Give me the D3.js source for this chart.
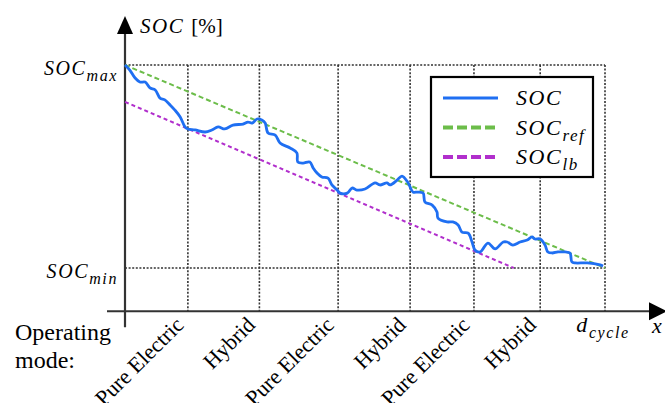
<!DOCTYPE html>
<html>
<head>
<meta charset="utf-8">
<script src="https://cdn.jsdelivr.net/npm/d3@7"></script>
<style>
  body { margin: 0; background: #fff; }
  svg { display: block; }
</style>
</head>
<body>
<div id="chart"></div>
<script>
// distance along the cycle (0 = start, 100 = d_cycle), SOC normalised (0 = SOC_min, 100 = SOC_max)
const modeNames = ["Pure Electric", "Hybrid", "Pure Electric", "Hybrid", "Pure Electric", "Hybrid"];
const modeEnds = [13.1, 28.0, 44.4, 59.4, 72.7, 86.5, 100];

const socX = [0, 1.0, 2.1, 3.1, 4.2, 5.2, 6.3, 7.3, 8.3, 9.4, 10.4, 11.5, 12.5, 13.1, 14.6, 16.7, 18.1, 19.4, 20.8, 22.5,
  24.6, 25.6, 26.5, 27.5, 28.5, 29.2, 29.8, 31.3, 32.3, 34.4, 35.8, 36.0, 37.1, 38.5, 39.2, 40.0, 41.0, 42.3, 43.1, 44.2,
  44.8, 46.3, 47.3, 48.3, 50.0, 52.1, 53.1, 54.6, 55.2, 56.7, 57.7, 59.0, 60.0, 61.0, 62.1, 62.5, 64.0, 65.0, 65.2, 67.1,
  68.3, 69.4, 70.2, 71.5, 72.3, 72.9, 74.0, 75.6, 77.1, 78.8, 79.6, 80.8, 82.3, 83.8, 84.8, 85.4, 86.5, 87.5, 88.1, 89.0,
  90.2, 91.7, 92.7, 93.1, 93.8, 96.3, 99.0, 99.6];
const socY = [100, 97.5, 93.6, 91.6, 91.6, 88.7, 87.7, 83.7, 82.8, 80.3, 77.8, 74.4, 69.5, 68.5, 68.0, 67.0, 68.0, 69.5, 68.5, 70.4,
  70.9, 71.9, 71.4, 73.4, 72.9, 71.4, 66.5, 65.5, 61.6, 59.1, 56.7, 52.2, 51.7, 52.2, 49.3, 46.8, 44.8, 44.3, 40.9, 38.4,
  36.9, 36.9, 39.4, 38.4, 38.9, 41.9, 40.9, 41.9, 40.9, 43.3, 45.3, 41.9, 37.4, 37.4, 36.9, 32.5, 31.0, 27.6, 24.6, 22.7,
  22.7, 21.2, 17.7, 17.2, 12.8, 8.9, 7.9, 12.3, 9.4, 12.8, 12.8, 11.3, 12.8, 13.8, 15.3, 14.3, 14.3, 11.3, 7.9, 7.4,
  7.9, 7.9, 7.4, 3.0, 2.5, 2.5, 1.5, 1.0];

const refX = [0, 100];
const refY = [100, 0];
const lbX = [0, 81.0];
const lbY = [81.8, 0];

const legendNames = [["SOC", ""], ["SOC", "ref"], ["SOC", "lb"]];

const SERIF = "'Liberation Serif', 'Times New Roman', Times, 'DejaVu Serif', serif";

const W = 665, H = 403;
const svg = d3.select("#chart").append("svg").attr("width", W).attr("height", H)
  .style("font-family", SERIF);

const x = d3.scaleLinear().domain([0, 100]).range([125, 605]);
const y = d3.scaleLinear().domain([0, 100]).range([268, 65]);

const axisY = y(-21.3);   // where the distance axis sits
const ink = "#333";

// dotted grid: SOC_max, SOC_min and the mode boundaries
const grid = svg.append("g").attr("stroke", ink).attr("stroke-width", 1.6)
  .attr("stroke-dasharray", "2,1.6").attr("fill", "none");
[100, 0].forEach(v => {
  grid.append("line").attr("x1", x(0)).attr("x2", x(100)).attr("y1", y(v)).attr("y2", y(v));
});
modeEnds.forEach(v => {
  grid.append("line").attr("x1", x(v)).attr("x2", x(v)).attr("y1", y(100)).attr("y2", axisY);
});

// axes with arrows
svg.append("line").attr("x1", x(0)).attr("x2", x(0)).attr("y1", axisY + 16).attr("y2", 30)
  .attr("stroke", ink).attr("stroke-width", 2.2);
svg.append("path").attr("d", `M${x(0)},16 L${x(0) - 8},34 L${x(0) + 8},34 Z`).attr("fill", "#000");
svg.append("line").attr("x1", 107).attr("x2", 652).attr("y1", axisY).attr("y2", axisY)
  .attr("stroke", ink).attr("stroke-width", 2.2);
svg.append("path").attr("d", `M667,${axisY} L649,${axisY - 9} L649,${axisY + 9} Z`).attr("fill", "#000");

// reference lines
const line = d3.line().x(d => x(d[0])).y(d => y(d[1]));
svg.append("path").datum(d3.zip(refX, refY)).attr("d", line)
  .attr("fill", "none").attr("stroke", "#6cbd4a").attr("stroke-width", 2).attr("stroke-dasharray", "5,3");
svg.append("path").datum(d3.zip(lbX, lbY)).attr("d", line)
  .attr("fill", "none").attr("stroke", "#b12fcc").attr("stroke-width", 2).attr("stroke-dasharray", "4,3");

// SOC trajectory
const socLine = d3.line().x(d => x(d[0])).y(d => y(d[1])).curve(d3.curveCatmullRom.alpha(0.5));
svg.append("path").datum(d3.zip(socX, socY)).attr("d", socLine)
  .attr("fill", "none").attr("stroke", "#1f6ff2").attr("stroke-width", 2.8).attr("stroke-linejoin", "round");

// math-style label with subscript
function mathText(g, px, py, base, sub, size, subSize, anchor) {
  const t = g.append("text").attr("x", px).attr("y", py)
    .attr("font-family", SERIF).attr("font-style", "italic").attr("letter-spacing", 1.6)
    .attr("font-size", size).attr("text-anchor", anchor || "start").attr("fill", "#000");
  t.append("tspan").text(base);
  if (sub) t.append("tspan").attr("dy", size * 0.28).attr("font-size", subSize).text(sub);
  return t;
}

mathText(svg, 118, 75, "SOC", "max", 20, 16, "end");
mathText(svg, 118, 278, "SOC", "min", 20, 16, "end");

const yl = svg.append("text").attr("x", 140).attr("y", 33).attr("font-size", 21).attr("font-family", SERIF);
yl.append("tspan").attr("font-style", "italic").attr("letter-spacing", 1.6).text("SOC ");
yl.append("tspan").text("[%]");

mathText(svg, 603, 332, "d", "cycle", 22, 16, "middle");
svg.append("text").attr("font-family", SERIF).attr("font-style", "italic")
  .attr("x", 652).attr("y", 333).attr("font-size", 22).text("x");

// operating modes
svg.append("text").attr("font-family", SERIF).attr("x", 15).attr("y", 340).attr("font-size", 24).text("Operating");
svg.append("text").attr("font-family", SERIF).attr("x", 15).attr("y", 368).attr("font-size", 24).text("mode:");
modeNames.forEach((m, i) => {
  const ax = x(modeEnds[i]) - 3, ay = axisY + 15;
  svg.append("text").attr("font-family", SERIF).attr("font-size", 22).attr("text-anchor", "end")
    .attr("transform", `translate(${ax},${ay}) rotate(-45)`).text(m);
});

// legend
const lg = svg.append("g");
lg.append("rect").attr("x", 431).attr("y", 77).attr("width", 162).attr("height", 100)
  .attr("fill", "#fff").attr("stroke", "#000").attr("stroke-width", 2.2);
const legendStyle = [
  { c: "#1f6ff2", dash: null, w: 3 },
  { c: "#6cbd4a", dash: "10,4", w: 4 },
  { c: "#b12fcc", dash: "10,4", w: 4 }
];
legendNames.forEach((n, i) => {
  const ly = 98 + i * 29.5;
  lg.append("line").attr("x1", 443).attr("x2", 498).attr("y1", ly).attr("y2", ly)
    .attr("stroke", legendStyle[i].c).attr("stroke-width", legendStyle[i].w)
    .attr("stroke-dasharray", legendStyle[i].dash);
  mathText(lg, 516, ly + 7, n[0], n[1], 22, 17, "start");
});
</script>
</body>
</html>
